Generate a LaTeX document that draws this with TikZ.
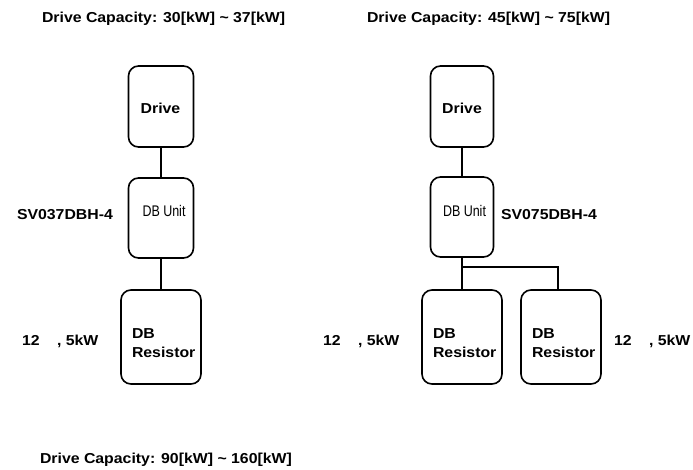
\documentclass[tikz,border=0pt]{standalone}
\usepackage{fontspec}
\setmainfont{Liberation Sans}
\newfontfamily\labfont[FakeStretch=1.1]{Liberation Sans}
\newfontfamily\narrowfont[FakeStretch=0.81]{Liberation Sans}
\begin{document}
\begin{tikzpicture}[x=1pt,y=-1pt,
  box/.style={draw,line width=1.6pt,rounded corners=10pt,inner sep=0pt,outer sep=0pt},
  lab/.style={inner sep=0pt,outer sep=0pt,font=\labfont\bfseries\fontsize{14.4}{17}\selectfont},
  unitlab/.style={inner sep=0pt,outer sep=0pt,font=\narrowfont\fontsize{15.4}{18}\selectfont},
  wire/.style={line width=1.6pt}]
\useasboundingbox (0,0) rectangle (693,469);
% titles
\node[lab,anchor=base west] (t1) at (42,22) {Drive Capacity: 30[kW] \textasciitilde{} 37[kW]};
\node[lab,anchor=base west] (t2) at (367,22) {Drive Capacity: 45[kW] \textasciitilde{} 75[kW]};
\node[lab,anchor=base west] (t3) at (40,463) {Drive Capacity: 90[kW] \textasciitilde{} 160[kW]};
% left column boxes
\node[box,minimum width=65pt,minimum height=81pt] (d1) at (161,106.5) {};
\node[box,minimum width=65pt,minimum height=80pt] (u1) at (161,218) {};
\node[box,minimum width=80pt,minimum height=94pt] (r1) at (161,337) {};
% right column boxes
\node[box,minimum width=63pt,minimum height=81pt] (d2) at (462,106.5) {};
\node[box,minimum width=63pt,minimum height=80pt] (u2) at (462,217) {};
\node[box,minimum width=80pt,minimum height=94pt] (r2) at (462,337) {};
\node[box,minimum width=80pt,minimum height=94pt] (r3) at (561,337) {};
% box texts
\node[lab,anchor=base] (d1t) at (160.5,113) {Drive};
\node[lab,anchor=base] (d2t) at (462,113) {Drive};
\node[unitlab,anchor=base] (u1t) at (164,216) {DB Unit};
\node[unitlab,anchor=base] (u2t) at (464.5,216) {DB Unit};
\node[lab,anchor=base west] (r1a) at (132,338) {DB};
\node[lab,anchor=base west] (r1b) at (132,357) {Resistor};
\node[lab,anchor=base west] (r2a) at (433,338) {DB};
\node[lab,anchor=base west] (r2b) at (433,357) {Resistor};
\node[lab,anchor=base west] (r3a) at (532,338) {DB};
\node[lab,anchor=base west] (r3b) at (532,357) {Resistor};
% side labels
\node[lab,anchor=base west] (s1) at (17,219) {SV037DBH-4};
\node[lab,anchor=base west] (s2) at (501,219) {SV075DBH-4};
\node[lab,anchor=base west] (k1) at (22,345) {12\hspace{17.4pt}, 5kW};
\node[lab,anchor=base west] (k2) at (323,345) {12\hspace{17.4pt}, 5kW};
\node[lab,anchor=base west] (k3) at (614,345) {12\hspace{17.4pt}, 5kW};
% connectors
\draw[wire] (d1.south) -- (u1.north);
\draw[wire] (u1.south) -- (r1.north);
\draw[wire] (d2.south) -- (u2.north);
\draw[wire] (u2.south) -- (r2.north);
\coordinate (j) at (462,267);
\coordinate (k) at (558,290);
\draw[wire] (j) -| (k);
\end{tikzpicture}
\end{document}
